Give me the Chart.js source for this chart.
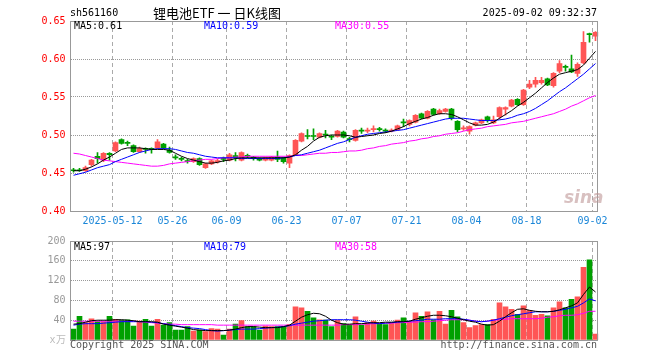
<!DOCTYPE html>
<html lang="zh-CN">
<head>
<meta charset="UTF-8">
<title>锂电池ETF 日K线图</title>
<script src="https://cdn.jsdelivr.net/npm/chart.js"></script>
<style>
  body { margin: 0; background: #fff; }
  #wrap { position: relative; width: 660px; height: 360px; overflow: hidden;
          font-family: "DejaVu Sans Mono", monospace; font-size: 10px; }
  canvas { position: absolute; left: 0; }
  .t { position: absolute; line-height: 12px; white-space: nowrap; }
</style>
</head>
<body>
<div id="wrap">
  <canvas id="kChart" width="660" height="230" style="top:0"></canvas>
  <canvas id="volChart" width="660" height="130" style="top:230px"></canvas>

  <div class="t" style="left:70px;top:7px;color:#000">sh561160</div>
  <div class="t" style="left:140px;width:154px;top:5px;line-height:16px;text-align:center;font-family:'Noto Sans CJK SC',sans-serif;font-size:13px;color:#000">锂电池ETF 一 日K线图</div>
  <div class="t" style="right:63px;top:7px;color:#000">2025-09-02 09:32:37</div>

  <div class="t" id="ma5Label" style="left:74px;top:20px;color:#000"></div>
  <div class="t" id="ma10Label" style="left:204px;top:20px;color:#0000ff"></div>
  <div class="t" id="ma30Label" style="left:335px;top:20px;color:#ff00ff"></div>

  <div class="t" id="vma5Label" style="left:74px;top:241px;color:#000"></div>
  <div class="t" id="vma10Label" style="left:204px;top:241px;color:#0000ff"></div>
  <div class="t" id="vma30Label" style="left:335px;top:241px;color:#ff00ff"></div>

  <div class="t" style="left:564px;top:188px;line-height:18px;font-family:'DejaVu Sans',sans-serif;font-style:italic;font-weight:bold;font-size:17px;color:rgba(190,150,150,0.6)">sina</div>

  <div class="t" style="left:70px;top:339px;color:#555">Copyright 2025 SINA.COM</div>
  <div class="t" style="right:63px;top:339px;color:#555">http://finance.sina.com.cn</div>
</div>

<script>
  // trading days (MM-DD), 2025-04-28 .. 2025-09-02
  const dates = ['04-28','04-29','04-30','05-06','05-07','05-08','05-09',
    '05-12','05-13','05-14','05-15','05-16','05-19','05-20','05-21','05-22','05-23',
    '05-26','05-27','05-28','05-29','05-30',
    '06-03','06-04','06-05','06-06','06-09','06-10','06-11','06-12','06-13',
    '06-16','06-17','06-18','06-19','06-20','06-23','06-24','06-25','06-26','06-27','06-30',
    '07-01','07-02','07-03','07-04','07-07','07-08','07-09','07-10','07-11',
    '07-14','07-15','07-16','07-17','07-18','07-21','07-22','07-23','07-24','07-25',
    '07-28','07-29','07-30','07-31',
    '08-01','08-04','08-05','08-06','08-07','08-08','08-11','08-12','08-13','08-14','08-15',
    '08-18','08-19','08-20','08-21','08-22','08-25','08-26','08-27','08-28','08-29',
    '09-01','09-02'];

  const tickLabels = ['2025-05-12','05-26','06-09','06-23','07-07','07-21','08-04','08-18','09-02'];

  const opens = [0.454,0.454,0.453,0.461,0.472,0.467,0.476,0.479,0.494,0.490,
    0.486,0.478,0.482,0.482,0.483,0.488,0.480,0.471,0.469,0.466,
    0.465,0.469,0.457,0.462,0.465,0.469,0.467,0.473,0.467,0.473,
    0.471,0.469,0.467,0.467,0.471,0.470,0.463,0.474,0.492,0.499,
    0.499,0.497,0.501,0.498,0.498,0.504,0.495,0.493,0.506,0.505,
    0.507,0.508,0.506,0.505,0.507,0.517,0.514,0.517,0.528,0.522,
    0.534,0.528,0.531,0.534,0.518,0.508,0.505,0.513,0.516,0.524,
    0.516,0.524,0.534,0.538,0.547,0.540,0.563,0.567,0.569,0.574,
    0.565,0.584,0.590,0.587,0.581,0.595,0.633,0.630];
  const closes = [0.453,0.453,0.457,0.467,0.469,0.476,0.474,0.490,0.489,0.489,
    0.478,0.482,0.481,0.481,0.491,0.483,0.477,0.470,0.468,0.465,
    0.469,0.461,0.462,0.466,0.466,0.468,0.474,0.470,0.477,0.472,
    0.469,0.467,0.470,0.471,0.468,0.465,0.473,0.493,0.502,0.498,
    0.498,0.502,0.500,0.497,0.505,0.497,0.494,0.506,0.505,0.506,
    0.508,0.507,0.505,0.506,0.512,0.516,0.519,0.526,0.522,0.531,
    0.527,0.532,0.534,0.522,0.507,0.509,0.511,0.516,0.520,0.519,
    0.520,0.536,0.536,0.546,0.540,0.559,0.567,0.572,0.572,0.566,
    0.581,0.594,0.589,0.583,0.593,0.622,0.632,0.635];
  const highs = [0.456,0.456,0.459,0.468,0.477,0.477,0.477,0.491,0.495,0.492,
    0.487,0.484,0.483,0.483,0.494,0.489,0.484,0.474,0.471,0.468,
    0.470,0.470,0.463,0.467,0.468,0.471,0.476,0.477,0.478,0.475,
    0.472,0.470,0.471,0.472,0.479,0.471,0.474,0.494,0.503,0.507,
    0.508,0.503,0.506,0.500,0.506,0.505,0.497,0.507,0.509,0.509,
    0.512,0.510,0.508,0.508,0.513,0.521,0.520,0.527,0.529,0.532,
    0.535,0.534,0.535,0.535,0.519,0.512,0.512,0.517,0.521,0.525,
    0.525,0.537,0.537,0.547,0.548,0.560,0.572,0.576,0.576,0.575,
    0.582,0.598,0.592,0.605,0.595,0.636,0.634,0.636];
  const lows = [0.451,0.452,0.452,0.459,0.463,0.465,0.467,0.478,0.488,0.486,
    0.477,0.477,0.476,0.476,0.482,0.482,0.476,0.468,0.466,0.463,
    0.464,0.460,0.456,0.461,0.463,0.465,0.466,0.466,0.466,0.470,
    0.467,0.466,0.466,0.466,0.465,0.463,0.457,0.473,0.491,0.495,
    0.494,0.496,0.496,0.494,0.497,0.496,0.491,0.492,0.502,0.503,
    0.504,0.505,0.503,0.504,0.506,0.511,0.512,0.516,0.521,0.521,
    0.526,0.527,0.530,0.520,0.504,0.506,0.501,0.512,0.515,0.517,
    0.515,0.521,0.526,0.537,0.539,0.539,0.561,0.563,0.567,0.565,
    0.563,0.582,0.584,0.582,0.577,0.594,0.622,0.624];

  // moving averages as drawn on the chart
  const ma5 = [0.453,0.453,0.455,0.458,0.462,0.467,0.471,0.476,0.481,0.483,
    0.483,0.483,0.482,0.481,0.481,0.481,0.480,0.476,0.472,0.469,
    0.467,0.465,0.463,0.463,0.464,0.466,0.467,0.469,0.470,0.470,
    0.470,0.470,0.470,0.470,0.470,0.470,0.471,0.474,0.480,0.485,
    0.492,0.497,0.499,0.500,0.500,0.500,0.499,0.497,0.498,0.499,
    0.500,0.502,0.503,0.505,0.508,0.511,0.515,0.518,0.521,0.523,
    0.526,0.528,0.528,0.527,0.524,0.520,0.516,0.513,0.513,0.514,
    0.517,0.522,0.527,0.532,0.538,0.543,0.549,0.555,0.562,0.569,
    0.575,0.580,0.582,0.584,0.586,0.592,0.601,0.610];
  const ma10 = [0.447,0.449,0.451,0.454,0.457,0.459,0.461,0.465,0.468,0.471,
    0.474,0.477,0.479,0.481,0.482,0.482,0.482,0.481,0.479,0.477,
    0.476,0.474,0.472,0.471,0.470,0.470,0.470,0.470,0.469,0.469,
    0.469,0.469,0.469,0.469,0.469,0.470,0.471,0.473,0.474,0.476,
    0.478,0.480,0.483,0.486,0.489,0.491,0.494,0.497,0.499,0.501,
    0.502,0.503,0.504,0.505,0.506,0.507,0.509,0.511,0.513,0.515,
    0.517,0.519,0.521,0.522,0.522,0.522,0.521,0.520,0.519,0.519,
    0.519,0.520,0.521,0.523,0.526,0.528,0.531,0.535,0.540,0.545,
    0.551,0.557,0.562,0.568,0.574,0.580,0.587,0.594];
  const ma30 = [0.476,0.475,0.473,0.471,0.469,0.467,0.466,0.465,0.464,0.463,
    0.462,0.461,0.460,0.459,0.459,0.460,0.462,0.463,0.464,0.465,
    0.466,0.467,0.468,0.468,0.469,0.470,0.470,0.471,0.471,0.472,
    0.472,0.472,0.472,0.472,0.472,0.472,0.472,0.473,0.473,0.474,
    0.475,0.476,0.476,0.477,0.477,0.478,0.479,0.479,0.480,0.482,
    0.483,0.485,0.486,0.488,0.489,0.490,0.492,0.493,0.495,0.496,
    0.498,0.499,0.501,0.502,0.503,0.505,0.507,0.508,0.509,0.511,
    0.512,0.513,0.514,0.516,0.517,0.518,0.520,0.522,0.524,0.526,
    0.528,0.531,0.534,0.538,0.541,0.545,0.549,0.552];

  // volume, 万手
  const volumes = [22,48,35,43,37,37,48,42,40,41,
    28,38,42,28,42,30,35,20,20,27,
    18,20,17,23,22,10,22,32,39,27,
    27,20,28,27,27,27,31,67,65,58,
    45,41,40,27,40,33,30,47,30,35,
    38,33,31,35,40,45,37,55,48,57,
    41,58,32,60,47,35,25,29,31,31,
    42,75,67,62,52,69,60,50,52,49,
    65,77,65,82,87,147,162,12];
  const volMa5 = [32,33,36,39,40,40,40,41,41,40,
    39,37,37,37,36,32,30,28,26,24,
    21,20,19,19,19,19,20,22,25,27,
    27,26,25,25,25,27,30,38,46,51,
    54,53,48,40,35,32,32,33,33,34,
    35,35,36,36,37,37,38,42,45,48,
    50,50,49,47,44,41,38,36,32,30,
    31,38,47,55,62,63,60,58,57,57,
    58,61,65,69,75,92,107,97];
  const volMa10 = [30,32,33,33,33,34,35,36,37,37,
    37,37,37,36,35,33,31,29,27,25,
    24,23,21,19,18,19,20,21,22,22,
    22,23,24,25,26,27,29,32,34,36,
    38,39,40,41,41,41,41,40,38,36,
    34,33,34,35,36,37,38,39,40,42,
    42,42,43,43,43,42,40,38,37,38,
    40,43,46,49,51,53,55,57,57,57,
    58,60,62,65,68,75,83,79];
  const volMa30 = [38,38,38,38,38,38,38,38,38,38,
    38,37,36,35,34,33,32,32,31,31,
    31,31,31,31,30,30,30,30,30,30,
    30,30,30,30,30,30,30,30,30,30,
    30,30,30,30,30,31,31,31,32,32,
    33,33,34,34,35,35,36,36,37,37,
    38,39,40,41,41,41,40,38,37,38,
    40,41,42,43,43,43,43,43,44,46,
    47,49,50,50,51,54,58,58];

  const RED = '#ff5555', GREEN = '#00a000';
  const last = a => a[a.length - 1];

  document.getElementById('ma5Label').textContent = 'MA5:' + last(ma5).toFixed(2);
  document.getElementById('ma10Label').textContent = 'MA10:' + last(ma10).toFixed(2);
  document.getElementById('ma30Label').textContent = 'MA30:' + last(ma30).toFixed(2);
  document.getElementById('vma5Label').textContent = 'MA5:' + last(volMa5);
  document.getElementById('vma10Label').textContent = 'MA10:' + last(volMa10);
  document.getElementById('vma30Label').textContent = 'MA30:' + last(volMa30);

  Chart.defaults.font.family = '"DejaVu Sans Mono", monospace';
  Chart.defaults.font.size = 10;
  Chart.defaults.animation = false;

  const tickIndex = tickLabels.map(t => dates.indexOf(t.slice(-5)));
  const candleColor = c => closes[c.dataIndex] >= opens[c.dataIndex] ? RED : GREEN;
  const gridX = c => tickIndex.includes(c.index) ? '#aaa' : 'rgba(0,0,0,0)';

  // plain grey frame round the plot area
  const frame = {
    id: 'frame',
    afterDraw(chart) {
      const a = chart.chartArea, ctx = chart.ctx;
      const l = Math.floor(a.left) + 0.5, r = Math.floor(a.right) - 0.5;
      ctx.save();
      ctx.strokeStyle = '#999';
      ctx.lineWidth = 1;
      ctx.strokeRect(l, Math.round(a.top) + 0.5, r - l, Math.round(a.bottom - a.top));
      ctx.restore();
    }
  };

  const maLine = (data, color) => ({
    type: 'line', data, borderColor: color, borderWidth: 1,
    pointRadius: 0, tension: 0, order: 0
  });

  new Chart(document.getElementById('kChart'), {
    type: 'bar',
    data: {
      labels: dates,
      datasets: [
        maLine(ma5, '#000000'),
        maLine(ma10, '#0000ff'),
        maLine(ma30, '#ff00ff'),
        { data: dates.map((d, i) => [opens[i], closes[i]]), backgroundColor: candleColor,
          barThickness: 5, minBarLength: 1, grouped: false, order: 1 },
        { data: dates.map((d, i) => [lows[i], highs[i]]), backgroundColor: candleColor,
          barThickness: 1, grouped: false, order: 2 }
      ]
    },
    options: {
      responsive: false,
      layout: { padding: { top: 21, right: 61.5, left: 0, bottom: 0 } },
      plugins: { legend: { display: false }, tooltip: { enabled: false } },
      scales: {
        x: {
          offset: true,
          grid: { offset: true, color: gridX, drawTicks: false },
          border: { display: false, dash: [4, 3] },
          ticks: {
            autoSkip: false, maxRotation: 0, minRotation: 0, padding: 4, labelOffset: -3,
            color: '#1a86d8',
            callback: (v, i) => { const k = tickIndex.indexOf(i); return k >= 0 ? tickLabels[k] : ''; }
          },
          afterFit: s => { s.height = 19; }
        },
        y: {
          min: 0.40, max: 0.65,
          grid: { color: '#999', drawTicks: false },
          border: { display: false, dash: [1, 1] },
          ticks: { stepSize: 0.05, padding: 5, color: '#ff0000', callback: v => v.toFixed(2) },
          afterFit: s => { s.width = 70.5; }
        }
      }
    },
    plugins: [frame]
  });

  new Chart(document.getElementById('volChart'), {
    type: 'bar',
    data: {
      labels: dates,
      datasets: [
        maLine(volMa5, '#000000'),
        maLine(volMa10, '#0000ff'),
        maLine(volMa30, '#ff00ff'),
        { data: volumes, backgroundColor: candleColor, barThickness: 5, order: 1 }
      ]
    },
    options: {
      responsive: false,
      layout: { padding: { top: 10, right: 61.5, left: 0, bottom: 20 } },
      plugins: { legend: { display: false }, tooltip: { enabled: false } },
      scales: {
        x: {
          offset: true,
          grid: { offset: true, color: gridX, drawTicks: false },
          border: { display: false, dash: [4, 3] },
          ticks: { display: false, autoSkip: false },
          afterFit: s => { s.height = 0; }
        },
        y: {
          min: 0, max: 200,
          grid: { color: '#999', drawTicks: false },
          border: { display: false, dash: [1, 1] },
          ticks: {
            stepSize: 40, padding: 5,
            color: c => c.tick.value === 0 ? '#bbb' : '#999',
            callback: v => v === 0 ? 'x万' : String(v)
          },
          afterFit: s => { s.width = 70.5; }
        }
      }
    },
    plugins: [frame]
  });
</script>
</body>
</html>
